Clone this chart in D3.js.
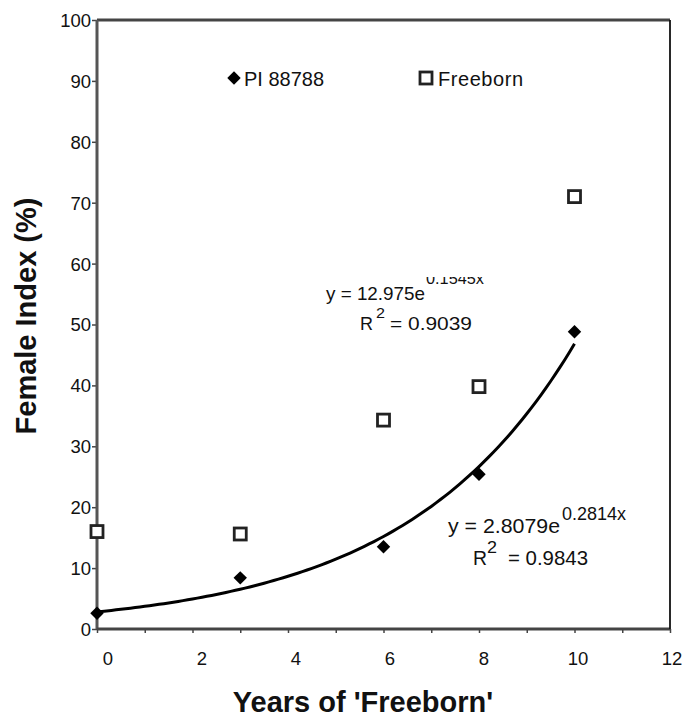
<!DOCTYPE html>
<html lang="en">
<head>
<meta charset="UTF-8" />
<title>Female Index vs Years of Freeborn</title>
<style>
    body { margin: 0; background: #fff; }
    svg text { font-family: "Liberation Sans", Arial, sans-serif; fill: #111; }
    .axis path { display: none; }
    .axis line { stroke: #444; stroke-width: 1.5; }
    .axis text { font-size: 18.5px; }
</style>
<script src="https://d3js.org/d3.v7.min.js"></script>
</head>
<body>
<svg id="chart" width="684" height="717"></svg>
<script>
    // data
    const years = [0, 3, 6, 8, 10];
    const pi88788 = [2.6, 8.4, 13.5, 25.4, 48.8];
    const freeborn = [16.0, 15.6, 34.3, 39.8, 71.0];
    const xTicks = [0, 2, 4, 6, 8, 10, 12];
    const yTicks = [0, 10, 20, 30, 40, 50, 60, 70, 80, 90, 100];
    // exponential trendline for PI 88788 (y = a * e^(b x))
    const fitA = 2.8079, fitB = 0.2814;

    const W = 684, H = 717;
    const margin = { top: 20, right: 14, bottom: 88, left: 97 };
    const svg = d3.select("#chart");

    const x = d3.scaleLinear().domain([0, 12]).range([margin.left, W - margin.right]);
    const y = d3.scaleLinear().domain([0, 100]).range([H - margin.bottom, margin.top]);
    // tick labels in the original sit a bit right of their ticks
    const xLab = d3.scaleLinear().domain([0, 12]).range([108, 672]);

    // y axis
    svg.append("g")
        .attr("class", "axis")
        .attr("transform", `translate(${margin.left},0)`)
        .call(d3.axisLeft(y).tickValues(yTicks).tickSize(5).tickPadding(1))
        .selectAll("text").attr("dy", "0.35em");

    // x axis: minor ticks every year, labels drawn separately
    svg.append("g")
        .attr("class", "axis")
        .attr("transform", `translate(0,${y(0)})`)
        .call(d3.axisBottom(x).ticks(12).tickSize(4).tickFormat(""));

    svg.append("g").selectAll("text")
        .data(xTicks)
        .join("text")
        .attr("x", d => xLab(d))
        .attr("y", 665)
        .attr("text-anchor", "middle")
        .attr("font-size", 18.5)
        .text(d => d);

    // frame
    const x0 = x(0), x1 = x(12), y0 = y(0), y1 = y(100);
    svg.append("line").attr("x1", x0).attr("x2", x1).attr("y1", y1).attr("y2", y1)
        .attr("stroke", "#444").attr("stroke-width", 3);
    svg.append("line").attr("x1", x0).attr("x2", x0).attr("y1", y1).attr("y2", y0)
        .attr("stroke", "#555").attr("stroke-width", 3);
    svg.append("line").attr("x1", x0).attr("x2", x1).attr("y1", y0).attr("y2", y0)
        .attr("stroke", "#444").attr("stroke-width", 3);
    svg.append("line").attr("x1", x1).attr("x2", x1).attr("y1", y1).attr("y2", y0)
        .attr("stroke", "#111").attr("stroke-width", 1.8);

    // trendline
    const fitLine = d3.line()
        .x(d => x(d))
        .y(d => y(fitA * Math.exp(fitB * d)));
    svg.append("path")
        .datum(d3.range(0, 10.01, 0.1))
        .attr("d", fitLine)
        .attr("fill", "none")
        .attr("stroke", "#000")
        .attr("stroke-width", 3);

    const diamond = d3.symbol().type(d3.symbolDiamond2).size(115);

    // Freeborn: open squares
    svg.append("g").selectAll("rect")
        .data(years.map((d, i) => [d, freeborn[i]]))
        .join("rect")
        .attr("x", d => x(d[0]) - 6)
        .attr("y", d => y(d[1]) - 6)
        .attr("width", 12)
        .attr("height", 12)
        .attr("fill", "#fff")
        .attr("stroke", "#222")
        .attr("stroke-width", 2.8);

    // PI 88788: filled diamonds
    svg.append("g").selectAll("path")
        .data(years.map((d, i) => [d, pi88788[i]]))
        .join("path")
        .attr("d", diamond)
        .attr("transform", d => `translate(${x(d[0])},${y(d[1])})`)
        .attr("fill", "#000");

    // legend
    svg.append("path").attr("d", diamond).attr("transform", "translate(234,78)").attr("fill", "#000");
    svg.append("text").attr("x", 244).attr("y", 86).attr("font-size", 20).text("PI 88788");
    svg.append("rect").attr("x", 420).attr("y", 72).attr("width", 12).attr("height", 12)
        .attr("fill", "#fff").attr("stroke", "#222").attr("stroke-width", 2.8);
    svg.append("text").attr("x", 438).attr("y", 86).attr("font-size", 20)
        .attr("textLength", 85).text("Freeborn");

    // equation labels
    svg.append("clipPath").attr("id", "supClip")
        .append("rect").attr("x", 420).attr("y", 277).attr("width", 80).attr("height", 20);

    const eq = (tx, ty, size, len, str) => svg.append("text")
        .attr("x", tx).attr("y", ty).attr("font-size", size)
        .attr("textLength", len).attr("lengthAdjust", "spacingAndGlyphs")
        .text(str);

    eq(326, 300, 19, 99, "y = 12.975e");
    eq(426, 284, 17, 58, "0.1545x").attr("clip-path", "url(#supClip)");
    eq(360, 330, 19, 13, "R");
    eq(376, 318, 14, 9, "2");
    eq(390, 330, 19, 82, "= 0.9039");

    eq(448, 533, 20, 112, "y = 2.8079e");
    eq(562, 520, 18, 64, "0.2814x");
    eq(473, 565, 20, 14, "R");
    eq(487, 553, 16, 10, "2");
    eq(508, 565, 20, 80, "= 0.9843");

    // axis titles
    svg.append("text")
        .attr("x", 363).attr("y", 712)
        .attr("text-anchor", "middle")
        .attr("font-size", 29).attr("font-weight", "bold")
        .text("Years of 'Freeborn'");
    svg.append("text")
        .attr("transform", "translate(36,316) rotate(-90)")
        .attr("text-anchor", "middle")
        .attr("font-size", 29).attr("font-weight", "bold")
        .text("Female Index (%)");
</script>
</body>
</html>
